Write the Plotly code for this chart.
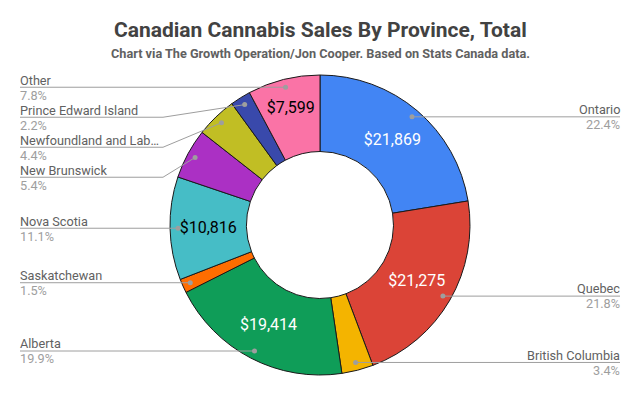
import math
import plotly.graph_objects as go

provinces = ["Ontario", "Quebec", "British Columbia", "Alberta", "Saskatchewan",
             "Nova Scotia", "New Brunswick", "Newfoundland and Labrador",
             "Prince Edward Island", "Other"]
label_names = ["Ontario", "Quebec", "British Columbia", "Alberta", "Saskatchewan",
               "Nova Scotia", "New Brunswick", "Newfoundland and Lab…",
               "Prince Edward Island", "Other"]
sales = [21869, 21275, 3320, 19414, 1464, 10816, 5272, 4296, 2148, 7599]
colors = ["#4285F4", "#DB4437", "#F4B400", "#0F9D58", "#FF6D00",
          "#46BDC6", "#AB30C4", "#C1BE24", "#3949AB", "#FA73A6"]
text_colors = ["white", "white", "white", "white", "white",
               "black", "white", "white", "white", "black"]

W, H = 640, 396
cx, cy, R = 320, 225, 150

total = sum(sales)
show = [v / total >= 0.07 for v in sales]
texts = ["${:,}".format(v) if s else "" for v, s in zip(sales, show)]

fig = go.Figure()
fig.add_trace(go.Pie(
    labels=provinces, values=sales, sort=False, direction="clockwise",
    rotation=0, hole=0.49,
    marker=dict(colors=colors, line=dict(color="#1a1a1a", width=1)),
    text=texts, textinfo="text", textposition="inside",
    insidetextorientation="horizontal",
    insidetextfont=dict(family="Roboto", size=16, color=text_colors),
    domain=dict(x=[(cx - R) / W, (cx + R) / W], y=[1 - (cy + R) / H, 1 - (cy - R) / H]),
    showlegend=False, hoverinfo="label+value+percent",
))

def px(x):
    return x / W

def py(y):
    return 1 - y / H

# compute leader dot positions from data
cum = 0.0
dots = []
for v in sales:
    mid = (cum + v / 2) / total * 2 * math.pi
    cum += v
    dx = 142 * math.sin(mid)
    dy = -142 * math.cos(mid)
    dots.append((cx + dx, cy + dy))

# label line y positions with overlap avoidance
left = sorted([i for i in range(len(sales)) if dots[i][0] < cx], key=lambda i: dots[i][1])
right = sorted([i for i in range(len(sales)) if dots[i][0] >= cx], key=lambda i: dots[i][1])
line_y = {}
for group in (left, right):
    prev = -1e9
    for i in group:
        y = max(dots[i][1], prev + 30)
        line_y[i] = y
        prev = y

shapes = []
annos = []
line_col = "#9E9E9E"
for i in range(len(sales)):
    dx_, dy_ = dots[i]
    ly = line_y[i]
    is_left = dx_ < cx
    xend = 20 if is_left else 620
    if abs(ly - dy_) > 1:
        ex = cx - 157 if is_left else cx + 157
        shapes.append(dict(type="line", xref="paper", yref="paper",
                           x0=px(dx_), y0=py(dy_), x1=px(ex), y1=py(ly),
                           line=dict(color=line_col, width=1)))
        shapes.append(dict(type="line", xref="paper", yref="paper",
                           x0=px(ex), y0=py(ly), x1=px(xend), y1=py(ly),
                           line=dict(color=line_col, width=1)))
    else:
        shapes.append(dict(type="line", xref="paper", yref="paper",
                           x0=px(dx_), y0=py(dy_), x1=px(xend), y1=py(ly),
                           line=dict(color=line_col, width=1)))
    shapes.append(dict(type="circle", xref="paper", yref="paper",
                       x0=px(dx_ - 2.5), x1=px(dx_ + 2.5),
                       y0=py(dy_ + 2.5), y1=py(dy_ - 2.5),
                       fillcolor=line_col, line=dict(width=0)))
    anchor = "left" if is_left else "right"
    annos.append(dict(x=px(xend), y=py(ly - 7.2), xref="paper", yref="paper",
                      text=label_names[i], showarrow=False, xanchor=anchor,
                      yanchor="middle", borderpad=0, xshift=-1 if is_left else 1,
                      font=dict(family="Roboto", size=12.7, color="#616161")))
    annos.append(dict(x=px(xend), y=py(ly + 7.8), xref="paper", yref="paper",
                      text="{:.1f}%".format(sales[i] / total * 100), showarrow=False,
                      xanchor=anchor, yanchor="middle", borderpad=0,
                      xshift=-1 if is_left else 1,
                      font=dict(family="Roboto", size=12.7, color="#9E9E9E")))

annos.append(dict(x=0.5, y=py(30), xref="paper", yref="paper",
                  text="<b>Canadian Cannabis Sales By Province, Total</b>",
                  showarrow=False, xanchor="center", yanchor="middle",
                  font=dict(family="Roboto", size=21, color="#424242")))
annos.append(dict(x=0.5, y=py(53.5), xref="paper", yref="paper",
                  text="<b>Chart via The Growth Operation/Jon Cooper. Based on Stats Canada data.</b>",
                  showarrow=False, xanchor="center", yanchor="middle",
                  font=dict(family="Roboto", size=12.7, color="#616161")))

fig.update_layout(
    width=W, height=H, margin=dict(l=0, r=0, t=0, b=0),
    paper_bgcolor="white", plot_bgcolor="white",
    shapes=shapes, annotations=annos,
    font=dict(family="Roboto"),
)

fig.write_html("out.html", config={"displayModeBar": False})

# remove default page margin so the chart sits at the window's top-left corner
with open("out.html", "r", encoding="utf-8") as f:
    html = f.read()
html = html.replace("<head>", "<head><style>html,body{margin:0;padding:0;overflow:hidden;}</style>", 1)
with open("out.html", "w", encoding="utf-8") as f:
    f.write(html)
